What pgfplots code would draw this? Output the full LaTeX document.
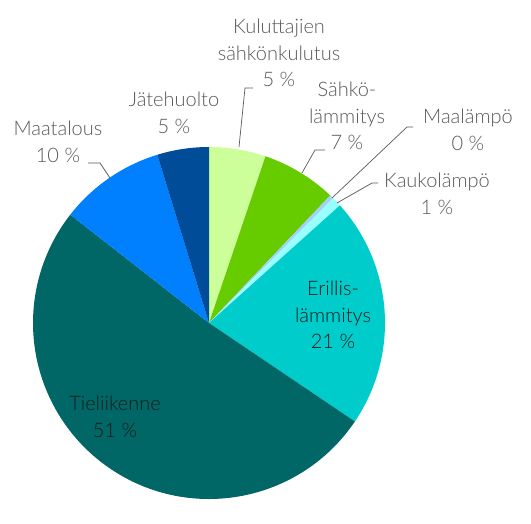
\documentclass[border=0pt]{standalone}
\usepackage{pgfplots}
\pgfplotsset{compat=1.18}
\usepackage{pgfplotstable}
\usepackage{fontspec}
\setmainfont{Lato}[UprightFont=* Light]
\definecolor{c0}{HTML}{CCFF99}
\definecolor{c1}{HTML}{66CC00}
\definecolor{c2}{HTML}{A3CFFF}
\definecolor{c3}{HTML}{99FFFF}
\definecolor{c4}{HTML}{00CCCC}
\definecolor{c5}{HTML}{006666}
\definecolor{c6}{HTML}{0080FF}
\definecolor{c7}{HTML}{004C99}
\definecolor{lblgray}{HTML}{595959}
\definecolor{lbldark}{HTML}{1A1A1A}
\tikzset{lbl/.style={font=\fontsize{20}{26.5}\selectfont, align=center, inner sep=0pt}}
\pgfplotstableread{
value
5.2
6.9
0.35
0.9
21.1
51.1
9.7
4.75
}\piedata
\begin{document}
\begin{tikzpicture}
\gdef\cum{90}
\foreach \i in {0,...,7}{%
  \pgfplotstablegetelem{\i}{value}\of\piedata
  \pgfmathsetmacro\s{\cum}%
  \pgfmathsetmacro\e{\cum-3.6*\pgfplotsretval}%
  \expandafter\xdef\csname sa\i\endcsname{\s}%
  \expandafter\xdef\csname ea\i\endcsname{\e}%
  \xdef\cum{\e}%
}
\begin{axis}[
  x=1pt, y=1pt,
  xmin=0, xmax=531, ymin=0, ymax=500,
  hide axis,
  clip=false,
]
\path (axis cs:0,0) rectangle (axis cs:531,500);
\pgfplotsinvokeforeach{0,...,7}{
  \fill[c#1] (axis cs:209,177) -- ([shift={(\csname sa#1\endcsname:176pt)}]axis cs:209,177)
     arc[start angle=\csname sa#1\endcsname, end angle=\csname ea#1\endcsname, radius=176pt] -- cycle;
}
% leader lines
\draw[lblgray, line width=0.7pt] (axis cs:253,412) -- (axis cs:245,412) -- (axis cs:239,353);
\draw[lblgray, line width=0.7pt] (axis cs:88,337) -- (axis cs:100,337) -- (axis cs:110,322);
\draw[lblgray, line width=0.7pt] (axis cs:325,350) -- (axis cs:315,350) -- (axis cs:302,327);
\draw[lblgray, line width=0.7pt] (axis cs:413,373) -- (axis cs:407,373) -- (axis cs:332,302);
\draw[lblgray, line width=0.7pt] (axis cs:378,317) -- (axis cs:372,317) -- (axis cs:337,297);
% labels
\node[lbl, text=lblgray] at (axis cs:279,447) {Kuluttajien\\sähkönkulutus\\5 \%};
\node[lbl, text=lblgray] at (axis cs:174,387) {Jätehuolto\\5 \%};
\node[lbl, text=lblgray] at (axis cs:58,358) {Maatalous\\10 \%};
\node[lbl, text=lblgray] at (axis cs:347,384) {Sähkö-\\lämmitys\\7 \%};
\node[lbl, text=lblgray] at (axis cs:468,370) {Maalämpö\\0 \%};
\node[lbl, text=lblgray] at (axis cs:437,306) {Kaukolämpö\\1 \%};
\node[lbl, text=lbldark] at (axis cs:333,185) {Erillis-\\lämmitys\\21 \%};
\node[lbl, text=lbldark] at (axis cs:115,83) {Tieliikenne\\51 \%};
\end{axis}
\end{tikzpicture}
\end{document}
